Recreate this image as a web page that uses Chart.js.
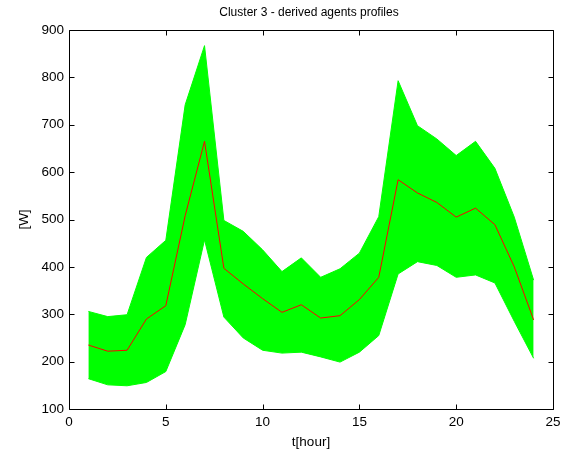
<!DOCTYPE html>
<html>
<head>
<meta charset="utf-8">
<script src="https://cdn.jsdelivr.net/npm/chart.js@4/dist/chart.umd.min.js"></script>
<style>
  html, body { margin: 0; padding: 0; background: #fff; }
  #wrap { width: 571px; height: 450px; position: relative; }
</style>
</head>
<body>
<div id="wrap"><canvas id="c" width="571" height="450"></canvas></div>
<script>
// Hours of the day
const hours = [1, 2, 3, 4, 5, 6, 7, 8, 9, 10, 11, 12, 13, 14, 15, 16, 17, 18, 19, 20, 21, 22, 23, 24];
// Envelope of the derived agent profiles [W]
const profileMax = [306, 295, 299, 420, 456, 742, 867, 498, 475, 436, 390, 419, 378, 396, 429, 506, 793, 698, 670, 635, 665, 608, 505, 372];
const profileMin = [164, 151, 149, 156, 179, 278, 457, 294, 250, 224, 218, 220, 210, 199, 220, 255, 385, 411, 403, 378, 383, 366, 285, 207];
// Cluster mean profile [W]
const profileMean = [235, 222, 224, 290, 318, 508, 665, 397, 364, 333, 304, 320, 292, 297, 331, 378, 584, 556, 536, 505, 524, 489, 400, 288];
// Axis ticks
const xTicks = [0, 5, 10, 15, 20, 25];
const yTicks = [100, 200, 300, 400, 500, 600, 700, 800, 900];
const titleText = 'Cluster 3 - derived agents profiles';

const toPts = arr => hours.map((h, i) => ({ x: h, y: arr[i] }));
const FONT = '"Liberation Sans", Arial, Helvetica, sans-serif';

// Box frame with inward tick marks on all four sides, and the title centred over the axes
const frame = {
  id: 'frame',
  afterDraw(chart) {
    const { ctx, chartArea: a, scales: { x, y } } = chart;
    ctx.save();
    ctx.strokeStyle = '#000';
    ctx.lineWidth = 1;
    ctx.beginPath();
    const L = Math.round(a.left) + 0.5, R = Math.round(a.right) + 0.5;
    const T = Math.round(a.top) + 0.5, B = Math.round(a.bottom) + 0.5;
    ctx.rect(L, T, R - L, B - T);
    const tl = 5;
    xTicks.forEach(v => {
      const px = Math.round(x.getPixelForValue(v)) + 0.5;
      ctx.moveTo(px, B); ctx.lineTo(px, B - tl);
      ctx.moveTo(px, T); ctx.lineTo(px, T + tl);
    });
    yTicks.forEach(v => {
      const py = Math.round(y.getPixelForValue(v)) + 0.5;
      ctx.moveTo(L, py); ctx.lineTo(L + tl, py);
      ctx.moveTo(R, py); ctx.lineTo(R - tl, py);
    });
    ctx.stroke();

    ctx.fillStyle = '#000';
    ctx.font = '12px ' + FONT;
    ctx.textAlign = 'center';
    ctx.textBaseline = 'middle';
    ctx.fillText(titleText, (a.left + a.right) / 2 - 2, 13);
    ctx.restore();
  }
};

new Chart(document.getElementById('c'), {
  type: 'line',
  data: {
    datasets: [
      {
        label: 'min',
        data: toPts(profileMin),
        borderColor: '#00ff00',
        backgroundColor: '#00ff00',
        borderWidth: 1,
        pointRadius: 0,
        fill: false,
        tension: 0,
        order: 2
      },
      {
        label: 'max',
        data: toPts(profileMax),
        borderColor: '#00ff00',
        backgroundColor: '#00ff00',
        borderWidth: 1,
        pointRadius: 0,
        fill: '-1',
        tension: 0,
        order: 1
      },
      {
        label: 'mean',
        data: toPts(profileMean),
        borderColor: '#ff0000',
        borderWidth: 1,
        pointRadius: 0,
        fill: false,
        tension: 0,
        order: -1
      }
    ]
  },
  options: {
    responsive: false,
    animation: false,
    layout: { padding: { left: 0, right: 18, top: 30, bottom: 0 } },
    plugins: {
      legend: { display: false },
      tooltip: { enabled: false },
      title: { display: false }
    },
    scales: {
      x: {
        type: 'linear',
        min: 0,
        max: 25,
        afterFit(s) { s.height = 41; },
        afterBuildTicks(s) { s.ticks = xTicks.map(v => ({ value: v })); },
        grid: { display: false, drawTicks: false },
        border: { display: false },
        ticks: { color: '#000', padding: 5, maxRotation: 0, font: { family: FONT, size: 13.5 } },
        title: {
          display: true,
          text: 't[hour]',
          color: '#000',
          font: { family: FONT, size: 13.5 },
          padding: { top: 0, bottom: 0 }
        }
      },
      y: {
        type: 'linear',
        min: 100,
        max: 900,
        afterFit(s) { s.width = 69; },
        afterBuildTicks(s) { s.ticks = yTicks.map(v => ({ value: v })); },
        grid: { display: false, drawTicks: false },
        border: { display: false },
        ticks: { color: '#000', padding: 5, font: { family: FONT, size: 13.5 } },
        title: {
          display: true,
          text: '[W]',
          color: '#000',
          font: { family: FONT, size: 13.5 },
          padding: { top: 16, bottom: 0 }
        }
      }
    }
  },
  plugins: [frame]
});
</script>
</body>
</html>
